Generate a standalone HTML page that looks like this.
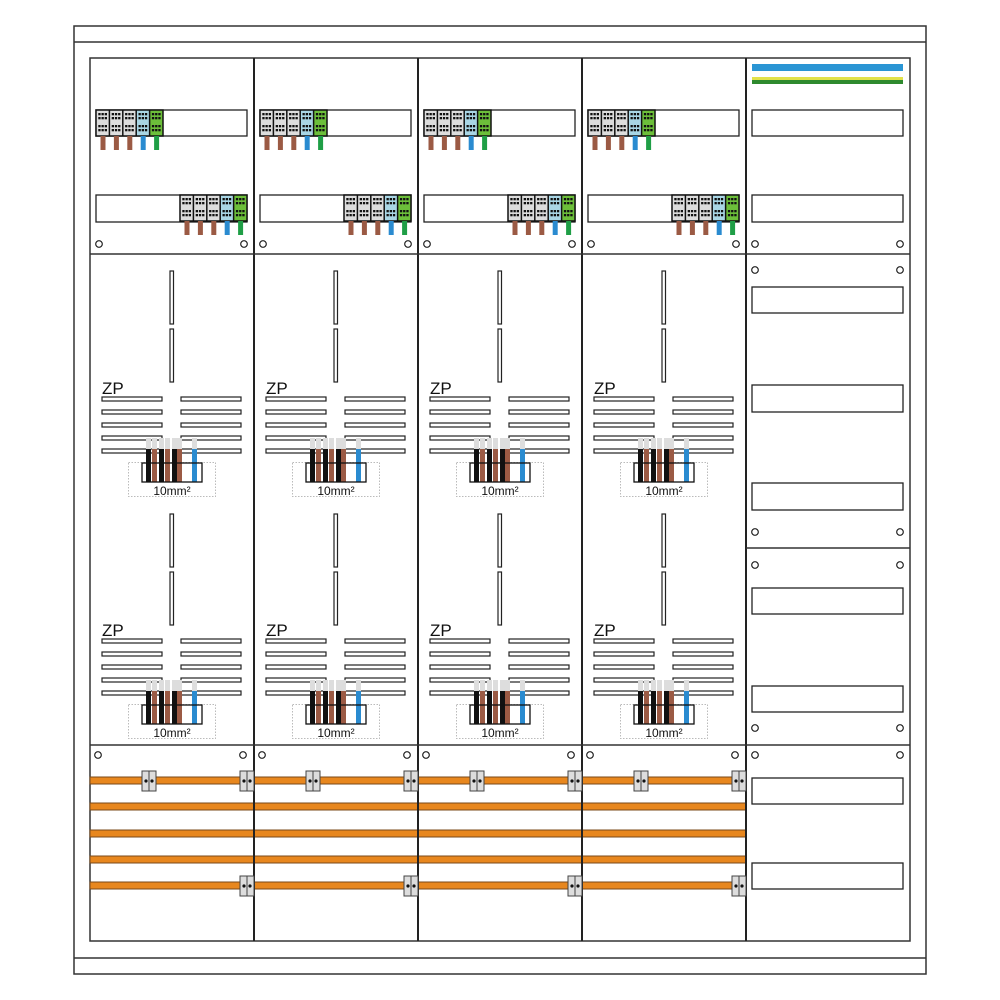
<!DOCTYPE html>
<html><head><meta charset="utf-8"><style>html,body{margin:0;padding:0;background:#fff}svg{display:block}</style></head>
<body>
<svg width="1000" height="1000" viewBox="0 0 1000 1000" xmlns="http://www.w3.org/2000/svg">
<defs>
  <g id="dots">
    <rect x="2.3" y="3" width="2.3" height="2.3" fill="#111"/><rect x="5.5" y="3" width="2.3" height="2.3" fill="#111"/><rect x="8.7" y="3" width="2.3" height="2.3" fill="#111"/>
    <rect x="2.3" y="7" width="2.3" height="2.3" fill="#111"/><rect x="5.5" y="7" width="2.3" height="2.3" fill="#111"/><rect x="8.7" y="7" width="2.3" height="2.3" fill="#111"/>
    <rect x="2.3" y="15" width="2.3" height="2.3" fill="#111"/><rect x="5.5" y="15" width="2.3" height="2.3" fill="#111"/><rect x="8.7" y="15" width="2.3" height="2.3" fill="#111"/>
    <rect x="2.3" y="19" width="2.3" height="2.3" fill="#111"/><rect x="5.5" y="19" width="2.3" height="2.3" fill="#111"/><rect x="8.7" y="19" width="2.3" height="2.3" fill="#111"/>
  </g>
  <g id="tb">
    <rect x="0" y="0" width="13.4" height="26" fill="#ddd"/>
    <rect x="13.4" y="0" width="13.4" height="26" fill="#ddd"/>
    <rect x="26.8" y="0" width="13.4" height="26" fill="#ddd"/>
    <rect x="40.2" y="0" width="13.4" height="26" fill="#a9d6e5"/>
    <rect x="53.6" y="0" width="13.4" height="26" fill="#6cbf3a"/>
    <use href="#dots" x="0"/><use href="#dots" x="13.4"/><use href="#dots" x="26.8"/><use href="#dots" x="40.2"/><use href="#dots" x="53.6"/>
    <g stroke="#111" stroke-width="1.5" fill="none">
      <rect x="0" y="0" width="67" height="26"/>
      <line x1="13.4" y1="0" x2="13.4" y2="26"/><line x1="26.8" y1="0" x2="26.8" y2="26"/><line x1="40.2" y1="0" x2="40.2" y2="26"/><line x1="53.6" y1="0" x2="53.6" y2="26"/>
    </g>
    <rect x="4.5" y="26" width="5" height="14" fill="#9b5a44"/>
    <rect x="17.9" y="26" width="5" height="14" fill="#9b5a44"/>
    <rect x="31.3" y="26" width="5" height="14" fill="#9b5a44"/>
    <rect x="44.7" y="26" width="5" height="14" fill="#2a8bd0"/>
    <rect x="58.1" y="26" width="5" height="14" fill="#1f9e46"/>
  </g>
  <g id="zp">
    <text x="102" y="14" font-family="Liberation Sans, sans-serif" font-size="17" fill="#111">ZP</text>
    <g fill="#fff" stroke="#222" stroke-width="1.2">
      <rect x="102" y="17" width="60" height="4"/><rect x="181" y="17" width="60" height="4"/>
      <rect x="102" y="30" width="60" height="4"/><rect x="181" y="30" width="60" height="4"/>
      <rect x="102" y="43" width="60" height="4"/><rect x="181" y="43" width="60" height="4"/>
      <rect x="102" y="56" width="60" height="4"/><rect x="181" y="56" width="60" height="4"/>
      <rect x="102" y="69" width="60" height="4"/><rect x="181" y="69" width="60" height="4"/>
    </g>
    <rect x="128.5" y="82.5" width="87" height="34" fill="none" stroke="#bbb" stroke-width="1" stroke-dasharray="1.5,1.5"/>
    <g fill="#ddd">
      <rect x="146" y="58" width="5" height="12"/><rect x="152" y="58" width="5" height="12"/><rect x="159" y="58" width="5" height="12"/>
      <rect x="165" y="58" width="5" height="12"/><rect x="172" y="58" width="5" height="12"/><rect x="177" y="58" width="5" height="12"/>
      <rect x="192" y="58" width="5" height="12"/>
    </g>
    <rect x="146" y="69" width="5" height="33" fill="#111"/>
    <rect x="152" y="69" width="5" height="33" fill="#9b5a44"/>
    <rect x="159" y="69" width="5" height="33" fill="#111"/>
    <rect x="165" y="69" width="5" height="33" fill="#9b5a44"/>
    <rect x="172" y="69" width="5" height="33" fill="#111"/>
    <rect x="177" y="69" width="5" height="33" fill="#9b5a44"/>
    <rect x="192" y="69" width="5" height="33" fill="#2a8bd0"/>
    <rect x="142" y="83" width="60" height="19" fill="none" stroke="#111" stroke-width="1.3"/>
    <text x="172" y="115" text-anchor="middle" font-family="Liberation Sans, sans-serif" font-size="12" fill="#111">10mm²</text>
  </g>
  <g id="clamp">
    <rect x="0" y="0" width="14" height="20" fill="#ddd" stroke="#444" stroke-width="1"/>
    <line x1="7" y1="0" x2="7" y2="20" stroke="#444" stroke-width="1"/>
    <circle cx="4" cy="10" r="1.6" fill="#111"/><circle cx="10" cy="10" r="1.6" fill="#111"/>
  </g>
  <g id="col">
    <rect x="96" y="110" width="151" height="26" fill="#fff" stroke="#222" stroke-width="1.3"/>
    <use href="#tb" x="96" y="110"/>
    <rect x="96" y="195" width="151" height="27" fill="#fff" stroke="#222" stroke-width="1.3"/>
    <use href="#tb" x="180" y="195"/>
    <circle cx="99" cy="244" r="3.3" fill="none" stroke="#222" stroke-width="1.2"/>
    <circle cx="244" cy="244" r="3.3" fill="none" stroke="#222" stroke-width="1.2"/>
    <g fill="#fff" stroke="#222" stroke-width="1.2">
      <rect x="170" y="271" width="3.5" height="53"/><rect x="170" y="329" width="3.5" height="53"/>
      <rect x="170" y="514" width="3.5" height="53"/><rect x="170" y="572" width="3.5" height="53"/>
    </g>
    <use href="#zp" y="380"/>
    <use href="#zp" y="622"/>
    <circle cx="98" cy="755" r="3.3" fill="none" stroke="#222" stroke-width="1.2"/>
    <circle cx="243" cy="755" r="3.3" fill="none" stroke="#222" stroke-width="1.2"/>
    <use href="#clamp" x="142" y="771"/>
    <use href="#clamp" x="240" y="771"/>
    <use href="#clamp" x="240" y="876"/>
  </g>
</defs>
<rect x="74" y="26" width="852" height="948" fill="#fff" stroke="#333" stroke-width="1.5"/>
<line x1="74" y1="42" x2="926" y2="42" stroke="#333" stroke-width="1.5"/>
<line x1="74" y1="958" x2="926" y2="958" stroke="#333" stroke-width="1.5"/>
<rect x="90" y="58" width="820" height="883" fill="#fff" stroke="#333" stroke-width="1.5"/>
<g fill="#e8871e" stroke="#7a4a1a" stroke-width="1">
  <rect x="90" y="777" width="656" height="7"/>
  <rect x="90" y="803" width="656" height="7"/>
  <rect x="90" y="830" width="656" height="7"/>
  <rect x="90" y="856" width="656" height="7"/>
  <rect x="90" y="882" width="656" height="7"/>
</g>
<g stroke="#222" stroke-width="2">
  <line x1="254" y1="58" x2="254" y2="941"/>
  <line x1="418" y1="58" x2="418" y2="941"/>
  <line x1="582" y1="58" x2="582" y2="941"/>
  <line x1="746" y1="58" x2="746" y2="941"/>
</g>
<g stroke="#333" stroke-width="1.5">
  <line x1="90" y1="254" x2="910" y2="254"/>
  <line x1="90" y1="745" x2="910" y2="745"/>
  <line x1="746" y1="548" x2="910" y2="548"/>
</g>
<use href="#col"/>
<use href="#col" x="164"/>
<use href="#col" x="328"/>
<use href="#col" x="492"/>
<rect x="752" y="64" width="151" height="7" fill="#2a95d4"/>
<rect x="752" y="77" width="151" height="3" fill="#e2e24a"/>
<rect x="752" y="80" width="151" height="4" fill="#2e8a2e"/>
<g fill="#fff" stroke="#222" stroke-width="1.3">
  <rect x="752" y="110" width="151" height="26"/>
  <rect x="752" y="195" width="151" height="27"/>
  <rect x="752" y="287" width="151" height="26"/>
  <rect x="752" y="385" width="151" height="27"/>
  <rect x="752" y="483" width="151" height="27"/>
  <rect x="752" y="588" width="151" height="26"/>
  <rect x="752" y="686" width="151" height="26"/>
  <rect x="752" y="778" width="151" height="26"/>
  <rect x="752" y="863" width="151" height="26"/>
</g>
<g fill="none" stroke="#222" stroke-width="1.2">
  <circle cx="755" cy="244" r="3.3"/><circle cx="900" cy="244" r="3.3"/>
  <circle cx="755" cy="270" r="3.3"/><circle cx="900" cy="270" r="3.3"/>
  <circle cx="755" cy="532" r="3.3"/><circle cx="900" cy="532" r="3.3"/>
  <circle cx="755" cy="565" r="3.3"/><circle cx="900" cy="565" r="3.3"/>
  <circle cx="755" cy="728" r="3.3"/><circle cx="900" cy="728" r="3.3"/>
  <circle cx="755" cy="755" r="3.3"/><circle cx="900" cy="755" r="3.3"/>
</g>
</svg>
</body></html>
